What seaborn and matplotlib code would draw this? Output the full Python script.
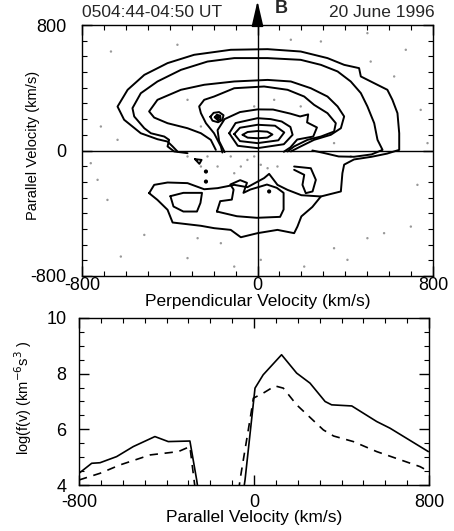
import matplotlib
matplotlib.use("Agg")
import matplotlib.pyplot as plt
import seaborn as sns
import numpy as np
from matplotlib.ticker import MultipleLocator, FixedLocator

sns.set_theme(style="white")
plt.rcParams['font.family'] = ['Liberation Sans', 'DejaVu Sans']

# ---------------- data ----------------
title_left = "0504:44-04:50 UT"
title_right = "20 June 1996"

# contour lines of the 2-D distribution (perpendicular, parallel) in km/s
c1_x = [-365, -387, -410, -456, -532, -608, -638, -592, -516, -410, -289, -122, 46, 197, 319, 395, 463, 471, 532, 592, 615, 638, 646, 646, 590, 520, 440, 395, 387, 380, 289]
c1_y = [-6, 26, 57, 72, 110, 196, 280, 387, 482, 557, 610, 642, 646, 631, 589, 546, 525, 472, 429, 387, 323, 238, 110, 4, -20, -40, -57, -90, -145, -261, -293]
c2_x = [-319, -380, -410, -403, -425, -486, -516, -562, -570, -532, -456, -349, -228, -106, 46, 197, 289, 365, 425, 471, 501, 532, 547, 570, 520, 440, 370, 300, 250]
c2_y = [-17, -6, 26, 68, 89, 110, 142, 217, 270, 365, 440, 514, 567, 589, 589, 578, 546, 504, 440, 366, 281, 174, 68, 4, -25, -40, -38, -15, 0]
c3_x = [-190, -213, -258, -319, -410, -471, -494, -456, -349, -243, -106, 46, 152, 243, 319, 365, 395, 380, 334, 258, 197, 152]
c3_y = [4, 68, 110, 142, 174, 210, 249, 323, 387, 419, 440, 450, 440, 397, 344, 281, 217, 142, 100, 68, 26, -6]
c4_x = [-160, -167, -198, -235, -258, -266, -243, -198, -106, 30, 137, 213, 258, 319, 357, 349, 289, 228, 167, 137]
c4_y = [-13, 26, 110, 174, 238, 281, 323, 344, 397, 408, 387, 344, 291, 238, 174, 121, 89, 68, 26, -6]
c5_x = [-150, -175, -182, -150, -80, 0, 71, 150, 194, 231, 226, 271, 254, 181, 150, 120]
c5_y = [-10, 60, 130, 200, 245, 262, 261, 235, 217, 230, 179, 147, 89, 70, 20, -8]
c6_x = [-129, -100, 0, 60, 110, 150, 160, 120, 0, -90, -129]
c6_y = [110, 175, 206, 200, 185, 150, 100, 40, 15, 30, 110]
c7_x = [-106, -80, 0, 80, 122, 95, 0, -80, -106]
c7_y = [105, 145, 164, 158, 115, 65, 47, 60, 105]
c8_x = [-68, -45, 0, 45, 68, 45, 0, -45, -68]
c8_y = [100, 118, 124, 120, 102, 82, 78, 82, 100]
hook_x = [-215, -200, -175, -155, -160, -180, -205, -215]
hook_y = [215, 240, 245, 225, 195, 180, 190, 215]
loop_x = [-195, -185, -170, -168, -180, -195]
loop_y = [212, 228, 222, 200, 192, 212]
low1_x = [-494, -471, -410, -319, -243, -182, -106, -46, 30, 53, 91, 137, 200, 289, 250, 200, 182, 167, 91, 0, -76, -122, -198, -258, -387, -410, -456, -494]
low1_y = [-272, -219, -204, -208, -247, -240, -219, -234, -176, -149, -219, -251, -285, -293, -360, -420, -485, -527, -506, -527, -553, -506, -495, -480, -459, -378, -315, -272]
low2_x = [-397, -338, -253, -260, -276, -338, -383, -397]
low2_y = [-291, -270, -270, -334, -389, -389, -357, -291]
low3_x = [-185, -170, -117, -109, -124, -79, -48, -64, -33, 43, 88, 119, 119, 103, -3, -94, -185]
low3_y = [-389, -323, -313, -249, -217, -189, -206, -270, -249, -217, -238, -270, -376, -423, -429, -419, -389]
low4_x = [167, 243, 266, 251, 220, 205, 213, 167]
low4_y = [-102, -113, -187, -261, -272, -219, -155, -123]
tri_x = [-285, -255, -265, -285]
tri_y = [-55, -60, -85, -55]
contours = [(c1_x, c1_y), (c2_x, c2_y), (c3_x, c3_y), (c4_x, c4_y), (c5_x, c5_y),
            (c6_x, c6_y), (c7_x, c7_y), (c8_x, c8_y), (hook_x, hook_y), (loop_x, loop_y),
            (low1_x, low1_y), (low2_x, low2_y), (low3_x, low3_y), (low4_x, low4_y),
            (tri_x, tri_y)]

# measurement points (grey dots)
dot_x = [-668, -365, -319, -258, 289, 516, 676, 744, 729, 699, 501, 410, 213, 15, -106, -319, -516, -623,
         -684, -729, -760, -638, -714, -228, -182, -122, -76, -46, -15, 15, 46, 91, -106, -319, -258, 349,
         577, 349, -167, -273, 775, 501, 152, 623, 197, 76, -15, 425]
dot_y = [631, 674, 323, 153, 695, 567, 642, 259, -219, -485, -559, -697, -740, -697, -740, -686, -538, -676,
         -315, -187, -81, 68, 153, -38, -102, -38, -102, -60, -38, -91, -113, -102, -145, -38, -102, 47,
         -527, -623, -591, -559, 47, 748, 706, 472, 281, 323, 281, -38]
bigdot_x = [-235, -235, 53, -180]
bigdot_y = [-134, -198, -261, 212]

# 1-D cuts: log f(v) vs parallel velocity
solid_left_v = [-800, -742, -704, -628, -552, -453, -392, -293, -262, -255]
solid_left_f = [4.42, 4.78, 4.80, 5.02, 5.38, 5.74, 5.56, 5.58, 4.18, 3.8]
solid_right_v = [-48, -41, 4.6, 42, 126, 195, 256, 325, 355, 447, 561, 622, 797]
solid_right_f = [3.8, 4.18, 7.48, 7.96, 8.68, 8.02, 7.66, 7.0, 6.88, 6.84, 6.28, 6.04, 5.2]
dash_left_v = [-800, -704, -613, -475, -346, -293, -274, -268]
dash_left_f = [4.18, 4.42, 4.72, 5.08, 5.2, 5.38, 4.18, 3.8]
dash_right_v = [-70, -64, -11, -3, 42, 96, 134, 195, 317, 364, 454, 561, 759, 797]
dash_right_f = [3.8, 4.18, 6.7, 7.12, 7.3, 7.56, 7.48, 6.88, 5.98, 5.76, 5.56, 5.2, 4.66, 4.5]

# ---------------- figure ----------------
W, H = 454, 531
fig = plt.figure(figsize=(W / 100, H / 100), dpi=100)
fig.patch.set_facecolor('white')
ax1 = fig.add_axes([82 / W, 1 - 276 / H, 351 / W, 251 / H])
ax2 = fig.add_axes([79 / W, 1 - 485 / H, 350 / W, 167 / H])

lw = 1.4
for xs, ys in contours:
    sns.lineplot(x=xs, y=ys, sort=False, estimator=None, color='black', linewidth=lw, ax=ax1)
sns.scatterplot(x=dot_x, y=dot_y, s=3, color='#999999', edgecolor='none', ax=ax1)
sns.scatterplot(x=bigdot_x, y=bigdot_y, s=9, color='black', edgecolor='none', ax=ax1)

ax1.axhline(0, color='black', lw=1.0)
ax1.axvline(0, color='black', lw=1.0)
ax1.set_xlim(-800, 800)
ax1.set_ylim(-800, 800)

# B arrow above the plot
ax1.annotate('', xy=(0.5, 1.096), xytext=(0.5, 1.0), xycoords='axes fraction',
             arrowprops=dict(arrowstyle='-|>,head_length=1.3,head_width=0.3', color='black', lw=1.2,
                             shrinkA=0, shrinkB=0),
             annotation_clip=False)
ax1.text(0.548, 1.066, 'B', transform=ax1.transAxes, fontsize=13, fontweight='bold',
         ha='left', va='center')
ax1.text(0.0, 1.05, title_left, transform=ax1.transAxes, fontsize=12.5, ha='left', va='center')
ax1.text(1.005, 1.05, title_right, transform=ax1.transAxes, fontsize=12.5, ha='right', va='center')

sns.lineplot(x=solid_left_v, y=solid_left_f, sort=False, estimator=None, color='black', lw=1.2, ax=ax2)
sns.lineplot(x=solid_right_v, y=solid_right_f, sort=False, estimator=None, color='black', lw=1.2, ax=ax2)
sns.lineplot(x=dash_left_v, y=dash_left_f, sort=False, estimator=None, color='black', lw=1.2, ax=ax2,
             linestyle=(0, (5, 4)))
sns.lineplot(x=dash_right_v, y=dash_right_f, sort=False, estimator=None, color='black', lw=1.2, ax=ax2,
             linestyle=(0, (5, 4)))
ax2.set_xlim(-800, 800)
ax2.set_ylim(4, 10)

for ax in (ax1, ax2):
    for s in ax.spines.values():
        s.set_visible(True)
        s.set_color('black')
        s.set_linewidth(1.0)
    ax.xaxis.set_major_locator(FixedLocator([-800, 0, 800]))
    ax.xaxis.set_minor_locator(MultipleLocator(100))
    ax.tick_params(which='both', direction='in', top=True, right=True, bottom=True, left=True,
                   color='black', labelsize=13, labelcolor='black')
    ax.tick_params(which='major', length=7, width=1.0)
    ax.tick_params(which='minor', length=3.5, width=0.8)
    ax.grid(False)

ax1.yaxis.set_major_locator(FixedLocator([-800, 0, 800]))
ax1.yaxis.set_minor_locator(MultipleLocator(100))
ax1.set_xticklabels(['-800', '0', '800'])
ax1.set_yticklabels(['-800', '0', '800'])
ax1.tick_params(axis='x', pad=1.0)
ax1.tick_params(axis='y', pad=11)

ax2.yaxis.set_major_locator(FixedLocator([4, 6, 8, 10]))
ax2.yaxis.set_minor_locator(MultipleLocator(0.5))
ax2.set_xticklabels(['-800', '0', '800'])
ax2.set_yticklabels(['4', '6', '8', '10'])
ax2.tick_params(axis='x', pad=6.5)
ax2.tick_params(axis='y', pad=9)
for lab in ax2.get_yticklabels():
    lab.set_verticalalignment('center_baseline')

ax1.set_xlabel('Perpendicular Velocity (km/s)', fontsize=12.5, color='black')
ax1.xaxis.set_label_coords(0.5, -0.072)
ax1.set_ylabel('Parallel Velocity (km/s)', fontsize=10.5, color='black')
ax1.yaxis.set_label_coords(-0.12, 0.52)

ax2.set_xlabel('Parallel Velocity (km/s)', fontsize=12.5, color='black')
ax2.xaxis.set_label_coords(0.5, -0.152)
ax2.set_ylabel(r'log(f(v) (km$^{-6}$s$^{3}$ )', fontsize=10.5, color='black')
ax2.yaxis.set_label_coords(-0.128, 0.52)

fig.savefig('out.png', dpi=100, facecolor='white')
